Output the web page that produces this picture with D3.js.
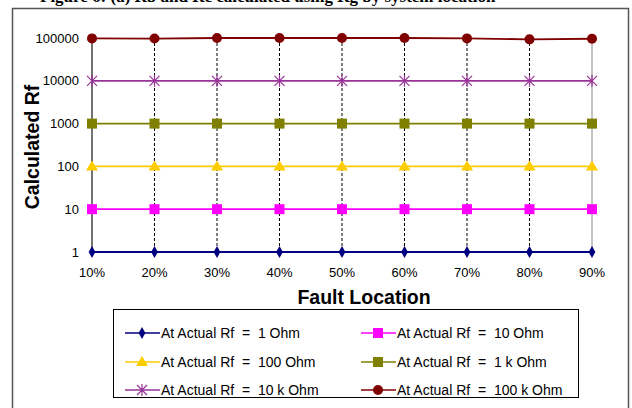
<html>
<head>
  <script src="https://cdnjs.cloudflare.com/ajax/libs/d3/7.8.5/d3.min.js"></script>
</head>
<style>
  body { margin: 0; background: #fff; }
  text { font-family: 'Liberation Sans', Arial, sans-serif; fill: #000; }
  .title { font-family: 'Liberation Serif', 'Times New Roman', serif; font-weight: bold; font-size: 17px; }
</style>
<body>
<script>
  // locations along the line
  var locations = ["10%", "20%", "30%", "40%", "50%", "60%", "70%", "80%", "90%"];
  var yTicks = [1, 10, 100, 1000, 10000, 100000];

  var rf1 = [1, 1, 1, 1, 1, 1, 1, 1, 1];
  var rf10 = [10, 10, 10, 10, 10, 10, 10, 10, 10];
  var rf100 = [100, 100, 100, 100, 100, 100, 100, 100, 100];
  var rf1k = [1000, 1000, 1000, 1000, 1000, 1000, 1000, 1000, 1000];
  var rf10k = [10000, 10000, 10000, 10000, 10000, 10000, 10000, 10000, 10000];
  var rf100k = [98000, 97000, 100000, 100000, 100000, 100000, 98000, 93000, 96000];

  var seriesNames = ["At Actual Rf  =  1 Ohm", "At Actual Rf  =  10 Ohm", "At Actual Rf  =  100 Ohm",
                     "At Actual Rf  =  1 k Ohm", "At Actual Rf  =  10 k Ohm", "At Actual Rf  =  100 k Ohm"];
  var seriesValues = [rf1, rf10, rf100, rf1k, rf10k, rf100k];
  var colors = ["#000080", "#ff00ff", "#ffcc00", "#808000", "#993399", "#800000"];
  var shapes = ["diamond", "square", "triangle", "square", "star", "circle"];

  var width = 632, height = 408;
  var svg = d3.select("body").append("svg")
    .attr("width", width).attr("height", height);

  // title, cut off at the top like the source scan
  svg.append("text").attr("class", "title")
    .attr("x", 40).attr("y", 2)
    .text("Figure 6: (a) Rb and Rc calculated using Rg by system location");

  // outer frame
  svg.append("rect")
    .attr("x", 12.5).attr("y", 8.5)
    .attr("width", 616).attr("height", 420)
    .attr("fill", "#fff").attr("stroke", "#555").attr("stroke-width", 1.5);

  var x = d3.scalePoint().domain(locations).range([92, 592]);
  var y = d3.scaleLog().domain([1, 100000]).range([252, 38]);

  // verticals
  svg.selectAll(".vgrid").data(locations).enter().append("line")
    .attr("x1", d => x(d)).attr("x2", d => x(d))
    .attr("y1", y(100000)).attr("y2", y(1))
    .attr("stroke", (d, i) => i == 0 ? "#444" : i == locations.length - 1 ? "#888" : "#000")
    .attr("stroke-width", (d, i) => i == 0 ? 1.5 : 1)
    .attr("stroke-dasharray", (d, i) => (i == 0 || i == locations.length - 1) ? null : "3,2");

  // y tick labels
  svg.selectAll(".ylab").data(yTicks).enter().append("text")
    .attr("x", 79).attr("y", d => y(d) + 4.5)
    .attr("text-anchor", "end").style("font-size", "13px")
    .text(d => d);

  // x tick labels
  svg.selectAll(".xlab").data(locations).enter().append("text")
    .attr("x", d => x(d)).attr("y", 277)
    .attr("text-anchor", "middle").style("font-size", "13px")
    .text(d => d);

  svg.append("text").attr("x", 364).attr("y", 304)
    .attr("text-anchor", "middle").style("font-size", "19.5px").style("font-weight", "bold")
    .text("Fault Location");

  svg.append("text")
    .attr("transform", "translate(39,147) rotate(-90)")
    .attr("text-anchor", "middle").style("font-size", "19.5px").style("font-weight", "bold")
    .text("Calculated Rf");

  function marker(g, shape, color, cx, cy) {
    if (shape == "diamond") {
      g.append("path").attr("d", d3.symbol(d3.symbolDiamond, 40)())
        .attr("transform", `translate(${cx},${cy})`).attr("fill", color);
    } else if (shape == "square") {
      g.append("rect").attr("x", cx - 5).attr("y", cy - 5).attr("width", 10).attr("height", 10)
        .attr("fill", color);
    } else if (shape == "triangle") {
      g.append("path").attr("d", `M${cx},${cy - 6}L${cx + 6},${cy + 4}L${cx - 6},${cy + 4}Z`)
        .attr("fill", color);
    } else if (shape == "circle") {
      g.append("circle").attr("cx", cx).attr("cy", cy).attr("r", 5).attr("fill", color);
    } else if (shape == "star") {
      g.append("path")
        .attr("d", `M${cx - 5},${cy - 5}L${cx + 5},${cy + 5}M${cx - 5},${cy + 5}L${cx + 5},${cy - 5}M${cx},${cy - 6}L${cx},${cy + 6}`)
        .attr("stroke", color).attr("stroke-width", 1.2).attr("fill", "none");
    }
  }

  var line = d3.line().x((d, i) => x(locations[i])).y(d => y(d));

  seriesValues.forEach(function(vals, s) {
    var g = svg.append("g");
    g.append("path").datum(vals).attr("d", line)
      .attr("fill", "none").attr("stroke", colors[s]).attr("stroke-width", 1.8);
    vals.forEach(function(v, i) { marker(g, shapes[s], colors[s], x(locations[i]), y(v)); });
  });

  // legend
  svg.append("rect")
    .attr("x", 113.5).attr("y", 309.5).attr("width", 465).attr("height", 88)
    .attr("fill", "#fff").attr("stroke", "#000").attr("stroke-width", 1);

  var legendCols = [125, 361];
  var legendRows = [333, 362, 390];
  seriesNames.forEach(function(name, s) {
    var lx = legendCols[s % 2], ly = legendRows[Math.floor(s / 2)];
    var g = svg.append("g");
    g.append("line").attr("x1", lx).attr("x2", lx + 35).attr("y1", ly).attr("y2", ly)
      .attr("stroke", colors[s]).attr("stroke-width", 1.5);
    marker(g, shapes[s], colors[s], lx + 17, ly);
    g.append("text").attr("x", lx + 36).attr("y", ly + 5)
      .style("font-size", "14px").style("white-space", "pre").text(name);
  });
</script>
</body>
</html>
